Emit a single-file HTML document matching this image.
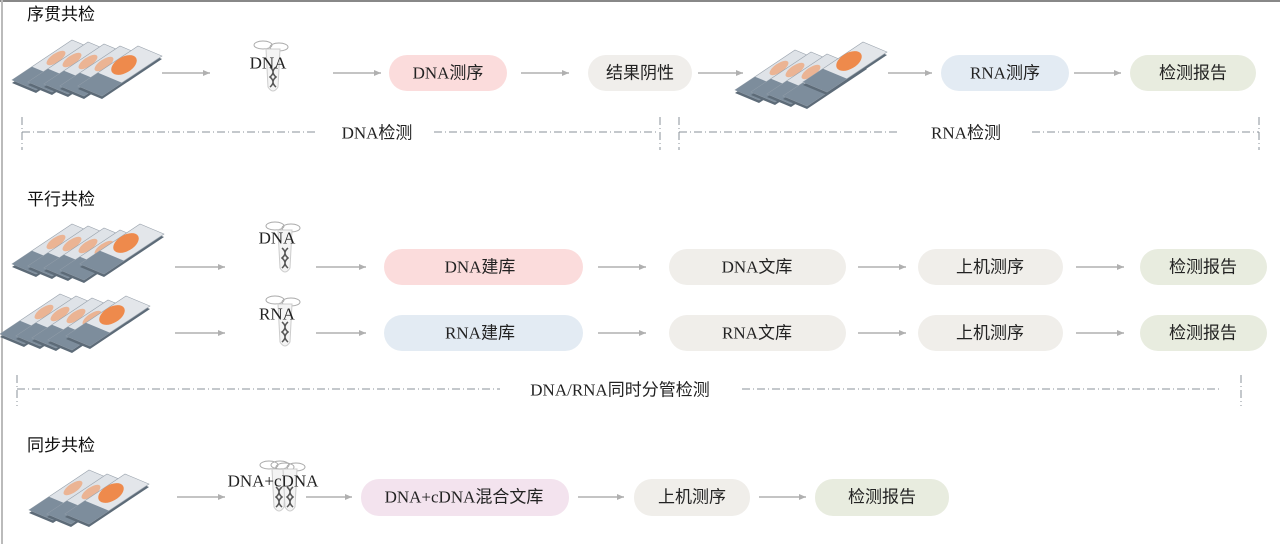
<!DOCTYPE html>
<html><head><meta charset="utf-8"><style>
html,body{margin:0;padding:0;background:#fff;}
svg{display:block;font-family:"Liberation Serif","Noto Serif CJK SC",serif;}
.h{font-family:"Liberation Sans","Noto Sans CJK SC",sans-serif;font-size:17px;fill:#111;}
.t{font-size:17px;fill:#222;text-anchor:middle;dominant-baseline:central;font-family:"Liberation Serif","Noto Sans CJK SC",serif;}
.a{stroke:#b0b0b0;stroke-width:1.5;fill:none;marker-end:url(#ar);}
.d{stroke:#8a9098;stroke-width:1;stroke-dasharray:8,3,1,3;fill:none;}
</style></head><body>
<svg width="1280" height="544" viewBox="0 0 1280 544">
<defs>
<marker id="ar" markerWidth="8" markerHeight="8" refX="7" refY="4" orient="auto" markerUnits="userSpaceOnUse"><path d="M0,1 L7,4 L0,7 z" fill="#b0b0b0"/></marker>
<g id="sl">
<polygon points="0,43 60,3 84,13 24,53" fill="#5d6b78"/>
<polygon points="0,40 60,0 84,10 24,50" fill="#dfe3e8" stroke="#9aa3ad" stroke-width="0.6"/>
<polygon points="0,40 20,26.7 44,36.7 24,50" fill="#7d8d9c"/>
<ellipse cx="44" cy="18" rx="11" ry="4.5" fill="#f0a070" opacity="0.7" transform="rotate(-34 44 18)"/>
</g>
<g id="slf">
<polygon points="0,43 60,3 84,13 24,53" fill="#5d6b78"/>
<polygon points="0,40 60,0 84,10 24,50" fill="#e3e6ea" stroke="#9aa3ad" stroke-width="0.6"/>
<polygon points="0,40 20,26.7 44,36.7 24,50" fill="#7d8d9c"/>
<ellipse cx="46" cy="19" rx="14" ry="8" fill="#ee8a4c" transform="rotate(-30 46 19)"/>
</g>
<g id="tube">
<ellipse cx="-7" cy="0" rx="9" ry="4" fill="none" stroke="#aaa"/>
<ellipse cx="9" cy="2" rx="9" ry="4" fill="none" stroke="#aaa"/>
<path d="M-4,4 L10,4 L8,42 Q3,50 -2,42 Z" fill="#f4f4f4" stroke="#ccc"/>
<path d="M0,22 Q6,27 0,32 Q6,37 0,42 M6,22 Q0,27 6,32 Q0,37 6,42" stroke="#555" stroke-width="1.5" fill="none"/>
</g>
</defs>
<rect x="0" y="0" width="1280" height="2" fill="#888"/>
<rect x="1" y="0" width="2" height="544" fill="#bbb"/>

<!-- Row 1 -->
<text class="h" x="27" y="20">序贯共检</text>
<use href="#sl" x="12" y="40"/><use href="#sl" x="28" y="42"/><use href="#sl" x="44" y="44"/><use href="#sl" x="60" y="46"/><use href="#slf" x="78" y="46"/>
<line class="a" x1="162" y1="73" x2="210" y2="73"/>
<use href="#tube" x="270" y="45"/>
<text class="t" x="268" y="63">DNA</text>
<line class="a" x1="333" y1="73" x2="381" y2="73"/>
<rect x="389" y="55" width="118" height="36" rx="18" fill="#fbdcdc"/><text class="t" x="448" y="73">DNA测序</text>
<line class="a" x1="521" y1="73" x2="569" y2="73"/>
<rect x="588" y="55" width="104" height="36" rx="18" fill="#f0eeeb"/><text class="t" x="640" y="73">结果阴性</text>
<line class="a" x1="698" y1="73" x2="743" y2="73"/>
<use href="#sl" x="735" y="50"/><use href="#sl" x="751" y="52"/><use href="#sl" x="767" y="54"/><use href="#sl" x="783" y="56"/><use href="#slf" x="803" y="42"/>
<line class="a" x1="888" y1="73" x2="932" y2="73"/>
<rect x="941" y="55" width="128" height="36" rx="18" fill="#e3ebf3"/><text class="t" x="1005" y="73">RNA测序</text>
<line class="a" x1="1074" y1="73" x2="1121" y2="73"/>
<rect x="1130" y="55" width="126" height="36" rx="18" fill="#e8ecdf"/><text class="t" x="1193" y="73">检测报告</text>
<path class="d" d="M22,117 V150 M22,132 H316 M434,132 H656 M660,117 V150 M679,117 V150 M679,132 H900 M1032,132 H1259 M1259,117 V150"/>
<text class="t" x="377" y="133">DNA检测</text>
<text class="t" x="966" y="133">RNA检测</text>

<!-- Row 2 -->
<text class="h" x="27" y="205">平行共检</text>
<use href="#sl" x="12" y="224"/><use href="#sl" x="28" y="226"/><use href="#sl" x="44" y="228"/><use href="#sl" x="60" y="230"/><use href="#slf" x="80" y="224"/>
<line class="a" x1="175" y1="267" x2="225" y2="267"/>
<use href="#tube" x="282" y="226"/><text class="t" x="277" y="238">DNA</text>
<line class="a" x1="316" y1="267" x2="366" y2="267"/>
<rect x="384" y="249" width="199" height="36" rx="18" fill="#fbdcdc"/><text class="t" x="480" y="267">DNA建库</text>
<line class="a" x1="598" y1="267" x2="646" y2="267"/>
<rect x="669" y="249" width="177" height="36" rx="18" fill="#f0eeea"/><text class="t" x="757" y="267">DNA文库</text>
<line class="a" x1="858" y1="267" x2="906" y2="267"/>
<rect x="918" y="249" width="145" height="36" rx="18" fill="#f0eeea"/><text class="t" x="990" y="267">上机测序</text>
<line class="a" x1="1076" y1="267" x2="1124" y2="267"/>
<rect x="1140" y="249" width="127" height="36" rx="18" fill="#e8ecdf"/><text class="t" x="1203" y="267">检测报告</text>

<use href="#sl" x="0" y="294"/><use href="#sl" x="16" y="296"/><use href="#sl" x="32" y="298"/><use href="#sl" x="48" y="300"/><use href="#slf" x="66" y="296"/>
<line class="a" x1="175" y1="333" x2="225" y2="333"/>
<use href="#tube" x="282" y="300"/><text class="t" x="277" y="314">RNA</text>
<line class="a" x1="316" y1="333" x2="366" y2="333"/>
<rect x="384" y="315" width="199" height="36" rx="18" fill="#e3ebf3"/><text class="t" x="480" y="333">RNA建库</text>
<line class="a" x1="598" y1="333" x2="646" y2="333"/>
<rect x="669" y="315" width="177" height="36" rx="18" fill="#f0eeea"/><text class="t" x="757" y="333">RNA文库</text>
<line class="a" x1="858" y1="333" x2="906" y2="333"/>
<rect x="918" y="315" width="145" height="36" rx="18" fill="#f0eeea"/><text class="t" x="990" y="333">上机测序</text>
<line class="a" x1="1076" y1="333" x2="1124" y2="333"/>
<rect x="1140" y="315" width="127" height="36" rx="18" fill="#e8ecdf"/><text class="t" x="1203" y="333">检测报告</text>
<path class="d" d="M17,375 V406 M17,389 H500 M742,389 H1222 M1241,375 V406"/>
<text class="t" x="620" y="390">DNA/RNA同时分管检测</text>

<!-- Row 3 -->
<text class="h" x="27" y="451">同步共检</text>
<use href="#sl" x="29" y="470"/><use href="#sl" x="47" y="474"/><use href="#slf" x="65" y="474"/>
<line class="a" x1="177" y1="497" x2="225" y2="497"/>
<use href="#tube" x="276" y="465"/><use href="#tube" x="287" y="465"/>
<text class="t" x="273" y="481">DNA+cDNA</text>
<line class="a" x1="306" y1="497" x2="352" y2="497"/>
<rect x="361" y="479" width="208" height="37" rx="18" fill="#f3e3ee"/><text class="t" x="464" y="497">DNA+cDNA混合文库</text>
<line class="a" x1="578" y1="497" x2="624" y2="497"/>
<rect x="634" y="479" width="116" height="37" rx="18" fill="#f0eeea"/><text class="t" x="692" y="497">上机测序</text>
<line class="a" x1="759" y1="497" x2="806" y2="497"/>
<rect x="815" y="479" width="134" height="37" rx="18" fill="#e8ecdf"/><text class="t" x="882" y="497">检测报告</text>
</svg>
</body></html>
